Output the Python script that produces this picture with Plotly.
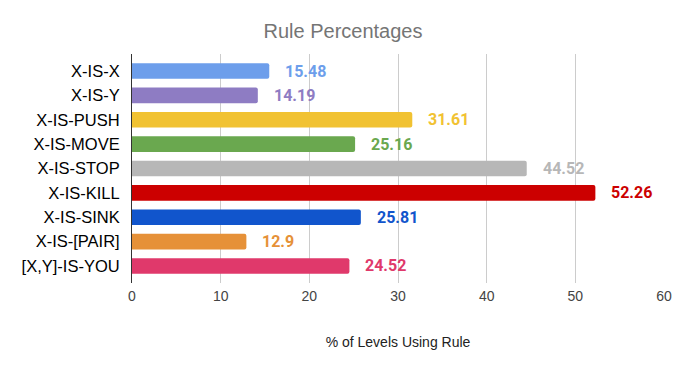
import plotly.graph_objects as go

# Rule names, top to bottom
rules = ["X-IS-X", "X-IS-Y", "X-IS-PUSH", "X-IS-MOVE", "X-IS-STOP",
         "X-IS-KILL", "X-IS-SINK", "X-IS-[PAIR]", "[X,Y]-IS-YOU"]
percentages = [15.48, 14.19, 31.61, 25.16, 44.52, 52.26, 25.81, 12.9, 24.52]
colors = ["#6d9eeb", "#8e7cc3", "#f1c232", "#6aa84f", "#b7b7b7",
          "#cc0000", "#1155cc", "#e69138", "#e0396b"]
x_ticks = [0, 10, 20, 30, 40, 50, 60]

fig = go.Figure(go.Bar(
    y=rules,
    x=percentages,
    orientation="h",
    marker=dict(color=colors, line=dict(width=0), cornerradius=2),
    width=0.64,
    hoverinfo="x+y",
))

# value labels to the right of each bar
for rule, val, col in zip(rules, percentages, colors):
    fig.add_annotation(
        x=val, y=rule, text=f"<b>{val:g}</b>", showarrow=False,
        xanchor="left", xshift=14,
        font=dict(family="Roboto", size=16, color=col),
    )

fig.update_layout(
    width=686, height=371,
    margin=dict(l=132, r=22, t=54, b=88, autoexpand=False),
    paper_bgcolor="white", plot_bgcolor="white",
    showlegend=False,
    title=dict(text="Rule Percentages", x=0.5, xanchor="center",
               y=1 - 31 / 371, yanchor="middle",
               font=dict(family="Liberation Sans, Arial", size=20, color="#757575")),
)
fig.update_xaxes(
    range=[0, 60], tickvals=x_ticks, showgrid=True, gridcolor="#cccccc",
    gridwidth=1, zeroline=False, showline=False, automargin=False,
    tickfont=dict(family="Liberation Sans, Arial", size=14, color="#444444"),
    ticks="", ticklabelstandoff=3,
    title=dict(text="% of Levels Using Rule", standoff=34,
               font=dict(family="Liberation Sans, Arial", size=14, color="#222222")),
)
fig.update_yaxes(
    autorange=False, range=[8.7, -0.7], showgrid=False, showline=True,
    linecolor="#333333", linewidth=1, ticks="", ticklabelstandoff=8,
    automargin=False,
    tickfont=dict(family="Liberation Sans, Arial", size=16.5, color="#000000"),
)

fig.write_html("out.html", config={"displayModeBar": False},
               post_script="document.body.style.margin='0';")
